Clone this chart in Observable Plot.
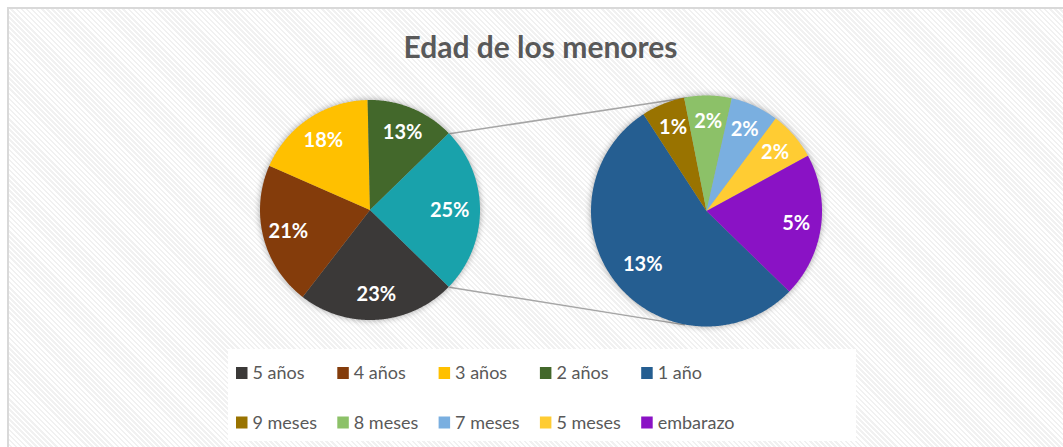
<!DOCTYPE html>
<html><head><meta charset="utf-8">
<script src="https://cdn.jsdelivr.net/npm/d3@7"></script>
<script src="https://cdn.jsdelivr.net/npm/@observablehq/plot@0.6"></script>
<style>
html,body{margin:0;padding:0;background:#fff;width:1063px;height:447px;overflow:hidden;}
#bg{position:absolute;left:7px;top:7px;width:1080px;height:470px;border-left:2px solid #d9d9d9;border-top:2px solid #d9d9d9;
 background:repeating-linear-gradient(45deg,#ffffff 0px,#ffffff 1.8px,#f1f1f1 1.8px,#f1f1f1 3.6px);}
#chart{position:absolute;left:0;top:0;}
</style></head><body><div id="bg"></div><div id="chart"></div>
<script>
// ---- data ----
const title = "Edad de los menores";
const mainNames = ["5 años", "4 años", "3 años", "2 años"];
const mainValues = [23.1, 21.0, 18.0, 13.0];
const detailNames = ["1 año", "9 meses", "8 meses", "7 meses", "5 meses", "embarazo"];
const detailValues = [13.1, 1.49, 1.62, 1.64, 1.67, 4.95];
const otherName = "Otros";
const mainColors = ["#3b3938", "#843c0b", "#ffc000", "#43682b"];
const otherColor = "#19a2ab";
const detailColors = ["#255e91", "#997300", "#8cc168", "#7aafe0", "#ffcc33", "#8a12c5"];

// ---- layout ----
const W = 1063, H = 447;
const LP = {cx: 370, cy: 210, r: 110};
const RP = {cx: 706.5, cy: 211, r: 115.5};
const rightStart = 134.2;
const connectorAngles = [350, 191];

const rad = d => d * Math.PI / 180;
const pt = (p, a, k = 1) => [p.cx + p.r * k * Math.sin(rad(a)), p.cy - p.r * k * Math.cos(rad(a))];

const otherValue = d3.sum(detailValues);
const total = d3.sum(mainValues) + otherValue;
const otherSpan = otherValue / total * 360;

const leftSlices = [];
let a = 90 + otherSpan / 2;
mainNames.forEach((n, i) => {
  const span = mainValues[i] / total * 360;
  leftSlices.push({name: n, value: mainValues[i], a0: a, a1: a + span, pie: LP, k: 0.77});
  a += span;
});
const otherSlice = {name: otherName, value: otherValue, a0: 90 - otherSpan / 2, a1: 90 + otherSpan / 2, pie: LP, k: 0.72};
leftSlices.push(otherSlice);

const rightSlices = [];
let b = rightStart;
detailNames.forEach((n, i) => {
  const span = detailValues[i] / otherValue * 360;
  rightSlices.push({name: n, value: detailValues[i], a0: b, a1: b + span, pie: RP, k: i === 0 ? 0.72 : 0.78});
  b += span;
});

// wedge = arc points (x1,y1) closed back through the centre (x2,y2)
function wedges(slices) {
  const out = [];
  for (const s of slices) {
    const n = Math.max(2, Math.ceil((s.a1 - s.a0) / 0.5));
    for (let j = 0; j <= n; j++) {
      const [x, y] = pt(s.pie, s.a0 + (s.a1 - s.a0) * j / n);
      out.push({name: s.name, x1: x, y1: y, x2: s.pie.cx, y2: s.pie.cy});
    }
  }
  return out;
}
const labels = [...leftSlices, ...rightSlices].map(s => {
  const [x, y] = pt(s.pie, (s.a0 + s.a1) / 2, s.k);
  return {x, y, text: Math.round(s.value / total * 100) + "%"};
});
const connectors = [
  {p1: pt(LP, otherSlice.a0), p2: pt(RP, connectorAngles[0])},
  {p1: pt(LP, otherSlice.a1), p2: pt(RP, connectorAngles[1])}
];

const legendNames = [...mainNames, ...detailNames];
const legendItems = legendNames.map((n, i) => ({
  name: n,
  x: 236 + (i % 5) * 101.3,
  y: 373 + Math.floor(i / 5) * 49.5
}));

const allNames = [...mainNames, otherName, ...detailNames];
const allColors = [...mainColors, otherColor, ...detailColors];

const chart = Plot.plot({
  width: W, height: H, margin: 0,
  style: {background: "transparent", fontFamily: "Lato, 'Open Sans', sans-serif"},
  x: {domain: [0, W], range: [0, W], axis: null},
  y: {domain: [0, H], range: [0, H], axis: null},
  color: {domain: allNames, range: allColors},
  marks: [
    Plot.link(connectors, {x1: d => d.p1[0], y1: d => d.p1[1], x2: d => d.p2[0], y2: d => d.p2[1], stroke: "#a6a6a6", strokeWidth: 1.5}),
    Plot.area(wedges(leftSlices), {x1: "x1", y1: "y1", x2: "x2", y2: "y2", z: "name", fill: "name"}),
    Plot.area(wedges(rightSlices), {x1: "x1", y1: "y1", x2: "x2", y2: "y2", z: "name", fill: "name"}),
    Plot.text(labels, {x: "x", y: "y", text: "text", fill: "white", fontSize: 20, fontWeight: "bold"}),
    Plot.text([title], {x: () => 540, y: () => 48, text: d => d, fill: "#595959", fontSize: 30, fontWeight: "bold"}),
    Plot.rect([0], {x1: () => 228, x2: () => 856, y1: () => 349, y2: () => 441, fill: "white"}),
    Plot.rect(legendItems, {x1: d => d.x, x2: d => d.x + 11.5, y1: d => d.y - 6, y2: d => d.y + 6, fill: "name"}),
    Plot.text(legendItems, {x: d => d.x + 16, y: "y", text: "name", textAnchor: "start", fill: "#595959", fontSize: 18})
  ]
});
document.getElementById("chart").appendChild(chart);
d3.select(chart).selectAll('g[aria-label="area"]')
  .style("filter", "drop-shadow(0px 0px 3px rgba(0,0,0,0.35))");
</script>
</body></html>
